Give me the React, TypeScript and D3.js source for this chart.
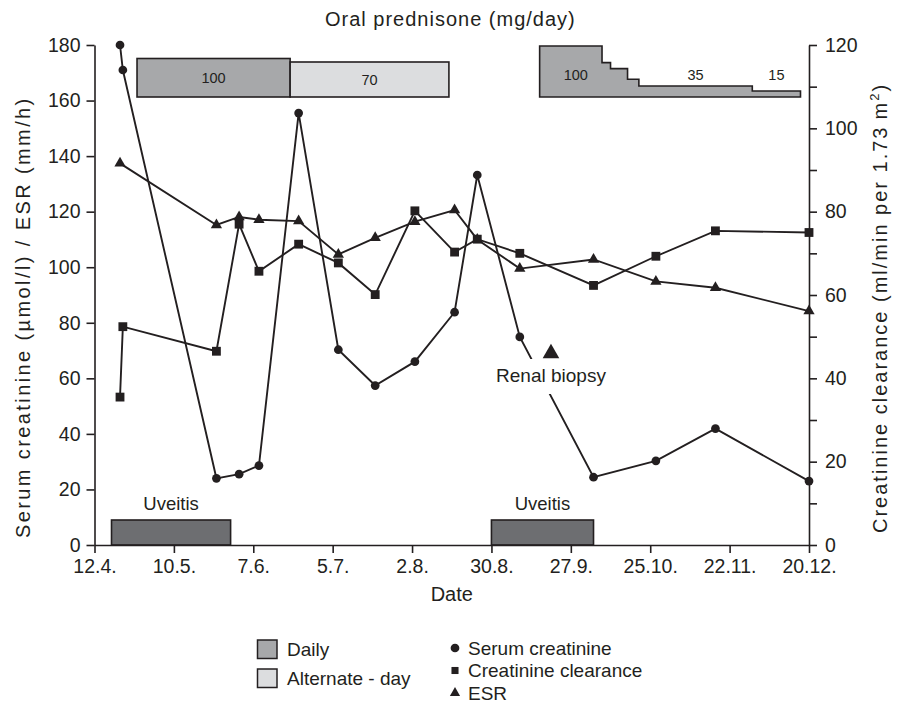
import { useEffect, useRef } from "react";
import * as d3 from "d3";

// dates are read as "day.month." within one (non-leap) year
const YEAR = 2001;
const parseDay = (s: string) => {
  const [d, m] = s.split(".").map(Number);
  return new Date(YEAR, m - 1, d);
};

const xTickLabels = ["12.4.", "10.5.", "7.6.", "5.7.", "2.8.", "30.8.", "27.9.", "25.10.", "22.11.", "20.12."];
const leftTicks = [0, 20, 40, 60, 80, 100, 120, 140, 160, 180];
const rightTicks = [0, 10, 20, 30, 40, 50, 60, 70, 80, 90, 100, 110, 120];

const sampleDates = ["21.4.", "22.4.", "25.5.", "2.6.", "9.6.", "23.6.", "7.7.", "20.7.", "3.8.", "17.8.", "25.8.", "9.9.", "5.10.", "27.10.", "17.11.", "20.12."];
const serumCreatinine = [180, 171, 24, 25.5, 28.6, 155.5, 70.3, 57.4, 66, 83.8, 133.2, 74.9, 24.4, 30.3, 41.9, 23];
const creatinineClearance = [35.5, 52.4, 46.5, 77, 65.7, 72.2, 67.7, 60.1, 80.2, 70.3, 73.4, 70, 62.3, 69.3, 75.4, 75];
const esrDates = ["21.4.", "25.5.", "2.6.", "9.6.", "23.6.", "7.7.", "20.7.", "3.8.", "17.8.", "25.8.", "9.9.", "5.10.", "27.10.", "17.11.", "20.12."];
const esr = [137.4, 115.2, 118.1, 117.1, 116.6, 104.6, 110.6, 116.4, 120.6, 110, 99.5, 102.8, 94.9, 92.6, 84.2];

const biopsyDate = "20.9.";
const biopsyLevel = 69;

const uveitisStarts = ["18.4.", "30.8."];
const uveitisEnds = ["30.5.", "5.10."];

// first prednisone course: daily, then alternate-day
const course1Starts = ["27.4.", "20.6."];
const course1Ends = ["20.6.", "15.8."];
const course1Doses = [100, 70];
const course1Kinds = ["daily", "alternate"];

// second course: daily, tapered
const course2Starts = ["16.9.", "8.10.", "11.10.", "17.10.", "21.10.", "30.11."];
const course2End = "17.12.";
const course2Doses = [100, 70, 60, 50, 35, 15];
const course2Labelled = [100, 35, 15];

export default function App() {
  const svgRef = useRef<SVGSVGElement>(null);

  useEffect(() => {
    if (!svgRef.current) return;
    const svg = d3.select(svgRef.current);
    svg.selectAll("*").remove();

    const font = "'Liberation Sans', Arial, Helvetica, sans-serif";
    const ink = "#231f20";
    const dailyFill = "#a7a8aa";
    const altFill = "#dcdddf";
    const uveitisFill = "#6d6e71";

    const x = d3
      .scaleTime()
      .domain([parseDay(xTickLabels[0]), parseDay(xTickLabels[xTickLabels.length - 1])])
      .range([94.5, 809]);
    const yL = d3.scaleLinear().domain([0, 180]).range([545, 45]);
    const yR = d3.scaleLinear().domain([0, 120]).range([545, 45]);

    // dose bars are drawn schematically in the original, not to one scale
    const base = 97;
    const doseH1 = d3.scaleLinear().domain([0, 70, 100]).range([0, 35, 38.5]);
    const doseH2 = d3
      .scaleLinear()
      .domain([0, 15, 35, 50, 60, 70, 100])
      .range([0, 6, 11, 17.7, 28.4, 34.4, 51]);

    // uveitis episodes
    uveitisStarts.forEach((s, i) => {
      const x0 = x(parseDay(s));
      const x1 = x(parseDay(uveitisEnds[i]));
      svg
        .append("rect")
        .attr("x", x0)
        .attr("y", yL(9))
        .attr("width", x1 - x0)
        .attr("height", yL(0) - yL(9))
        .attr("fill", uveitisFill)
        .attr("stroke", ink)
        .attr("stroke-width", 1.6);
      svg
        .append("text")
        .attr("x", (x0 + x1) / 2)
        .attr("y", yL(12.6))
        .attr("text-anchor", "middle")
        .attr("font-family", font)
        .attr("font-size", 18.5)
        .attr("fill", ink)
        .text("Uveitis");
    });

    // prednisone course 1
    course1Starts.forEach((s, i) => {
      const x0 = x(parseDay(s));
      const x1 = x(parseDay(course1Ends[i]));
      const h = doseH1(course1Doses[i]);
      svg
        .append("rect")
        .attr("x", x0)
        .attr("y", base - h)
        .attr("width", x1 - x0)
        .attr("height", h)
        .attr("fill", course1Kinds[i] === "daily" ? dailyFill : altFill)
        .attr("stroke", ink)
        .attr("stroke-width", 1.6);
      svg
        .append("text")
        .attr("x", (x0 + x1) / 2)
        .attr("y", base - h / 2 + 5)
        .attr("text-anchor", "middle")
        .attr("font-family", font)
        .attr("font-size", 14.5)
        .attr("fill", ink)
        .text(course1Doses[i]);
    });

    // prednisone course 2 as one stepped outline
    const steps = course2Starts.map((s, i) => ({ date: parseDay(s), dose: course2Doses[i] }));
    steps.push({ date: parseDay(course2End), dose: course2Doses[course2Doses.length - 1] });
    const stepArea = d3
      .area<{ date: Date; dose: number }>()
      .x((d) => x(d.date))
      .y0(base)
      .y1((d) => base - doseH2(d.dose))
      .curve(d3.curveStepAfter);
    svg
      .append("path")
      .attr("d", stepArea(steps))
      .attr("fill", dailyFill)
      .attr("stroke", ink)
      .attr("stroke-width", 1.6)
      .attr("stroke-linejoin", "miter");
    course2Starts.forEach((s, i) => {
      if (!course2Labelled.includes(course2Doses[i])) return;
      const next = i + 1 < course2Starts.length ? course2Starts[i + 1] : course2End;
      svg
        .append("text")
        .attr("x", (x(parseDay(s)) + x(parseDay(next))) / 2 + (i === 0 ? 5 : 0))
        .attr("y", 79.5)
        .attr("text-anchor", "middle")
        .attr("font-family", font)
        .attr("font-size", 14.5)
        .attr("fill", ink)
        .text(course2Doses[i]);
    });

    // axes
    const styleAxis = (g: d3.Selection<SVGGElement, unknown, null, undefined>) => {
      g.attr("font-family", font).attr("font-size", 19.5);
      g.select(".domain").attr("stroke", ink).attr("stroke-width", 1.6);
      g.selectAll(".tick line").attr("stroke", ink).attr("stroke-width", 1.6);
      g.selectAll(".tick text").attr("fill", ink);
    };

    svg
      .append("g")
      .attr("transform", `translate(0,${yL(0)})`)
      .call(
        d3
          .axisBottom(x)
          .tickValues(xTickLabels.map(parseDay))
          .tickFormat((_d, i) => xTickLabels[i])
          .tickSize(8)
          .tickSizeOuter(0)
          .tickPadding(6),
      )
      .call(styleAxis);

    svg
      .append("g")
      .attr("transform", `translate(${x.range()[0]},0)`)
      .call(d3.axisLeft(yL).tickValues(leftTicks).tickSize(8).tickSizeOuter(0).tickPadding(6))
      .call(styleAxis);

    svg
      .append("g")
      .attr("transform", `translate(${x.range()[1]},0)`)
      .call(
        d3
          .axisRight(yR)
          .tickValues(rightTicks)
          .tickFormat((d) => ((d as number) % 20 === 0 ? String(d) : ""))
          .tickSize(8)
          .tickSizeOuter(0)
          .tickPadding(8),
      )
      .call(styleAxis);

    // axis titles
    svg
      .append("text")
      .attr("x", 325)
      .attr("y", 26)
      .attr("font-family", font)
      .attr("font-size", 20)
      .attr("letter-spacing", 1)
      .attr("fill", ink)
      .text("Oral prednisone (mg/day)");

    svg
      .append("text")
      .attr("x", (x.range()[0] + x.range()[1]) / 2)
      .attr("y", 601)
      .attr("text-anchor", "middle")
      .attr("font-family", font)
      .attr("font-size", 20)
      .attr("fill", ink)
      .text("Date");

    svg
      .append("text")
      .attr("transform", "translate(30,538) rotate(-90)")
      .attr("font-family", font)
      .attr("font-size", 20)
      .attr("letter-spacing", 2.4)
      .attr("fill", ink)
      .text("Serum creatinine (\u00b5mol/l) / ESR (mm/h)");

    const rt = svg
      .append("text")
      .attr("transform", "translate(887,533) rotate(-90)")
      .attr("font-family", font)
      .attr("font-size", 20)
      .attr("letter-spacing", 2)
      .attr("fill", ink);
    rt.append("tspan").text("Creatinine clearance (ml/min per 1.73\u2009m");
    rt.append("tspan").attr("font-size", 13).attr("dy", -8).text("2");
    rt.append("tspan").attr("dy", 8).text(")");

    // series
    type Pt = [Date, number];
    const series = [
      { dates: sampleDates, values: serumCreatinine, y: yL, symbol: d3.symbolCircle, size: 60 },
      { dates: sampleDates, values: creatinineClearance, y: yR, symbol: d3.symbolSquare, size: 78 },
      { dates: esrDates, values: esr, y: yL, symbol: d3.symbolTriangle, size: 55 },
    ];

    series.forEach((s) => {
      const pts: Pt[] = s.dates.map((d, i) => [parseDay(d), s.values[i]]);
      const line = d3
        .line<Pt>()
        .x((d) => x(d[0]))
        .y((d) => s.y(d[1]));
      svg
        .append("path")
        .attr("d", line(pts))
        .attr("fill", "none")
        .attr("stroke", ink)
        .attr("stroke-width", 1.9);
    });

    // gap in the lines behind the biopsy label
    const bx = x(parseDay(biopsyDate));
    svg.append("rect").attr("x", bx - 58).attr("y", 359).attr("width", 116).attr("height", 35).attr("fill", "#fff");
    svg
      .append("text")
      .attr("x", bx)
      .attr("y", 382)
      .attr("text-anchor", "middle")
      .attr("font-family", font)
      .attr("font-size", 19)
      .attr("fill", ink)
      .text("Renal biopsy");
    svg
      .append("path")
      .attr("transform", `translate(${bx},${yL(biopsyLevel)})`)
      .attr("d", d3.symbol().type(d3.symbolTriangle).size(120)())
      .attr("fill", ink);

    series.forEach((s) => {
      svg
        .append("g")
        .selectAll("path")
        .data(s.dates.map((d, i) => [parseDay(d), s.values[i]] as Pt))
        .join("path")
        .attr("transform", (d) => `translate(${x(d[0])},${s.y(d[1])})`)
        .attr("d", d3.symbol().type(s.symbol).size(s.size)())
        .attr("fill", ink);
    });

    // legend
    const legendBoxes = [
      { label: "Daily", fill: dailyFill },
      { label: "Alternate - day", fill: altFill },
    ];
    legendBoxes.forEach((b, i) => {
      svg
        .append("rect")
        .attr("x", 257.5)
        .attr("y", 640 + i * 29)
        .attr("width", 19.5)
        .attr("height", 18.5)
        .attr("fill", b.fill)
        .attr("stroke", ink)
        .attr("stroke-width", 1.5);
      svg
        .append("text")
        .attr("x", 287)
        .attr("y", 656 + i * 29)
        .attr("font-family", font)
        .attr("font-size", 19)
        .attr("fill", ink)
        .text(b.label);
    });

    const legendMarks = [
      { label: "Serum creatinine", symbol: d3.symbolCircle, size: 60 },
      { label: "Creatinine clearance", symbol: d3.symbolSquare, size: 50 },
      { label: "ESR", symbol: d3.symbolTriangle, size: 45 },
    ];
    legendMarks.forEach((m, i) => {
      svg
        .append("path")
        .attr("transform", `translate(455,${648 + i * 22.5})`)
        .attr("d", d3.symbol().type(m.symbol).size(m.size)())
        .attr("fill", ink);
      svg
        .append("text")
        .attr("x", 468)
        .attr("y", 654.5 + i * 22.5)
        .attr("font-family", font)
        .attr("font-size", 19)
        .attr("fill", ink)
        .text(m.label);
    });
  }, []);

  return (
    <svg
      ref={svgRef}
      width={900}
      height={702}
      style={{ position: "absolute", left: 0, top: 0, background: "#fff" }}
    />
  );
}
